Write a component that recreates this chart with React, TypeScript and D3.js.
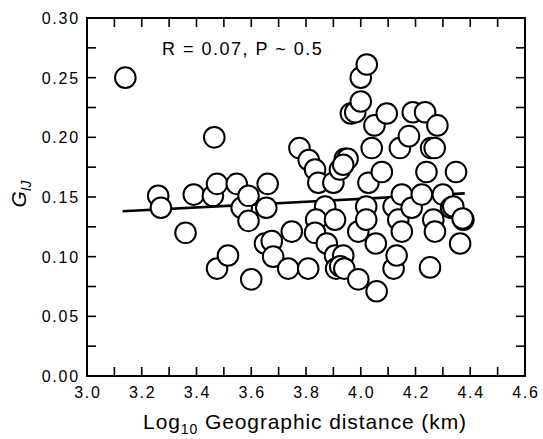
import React from 'react'
import * as d3 from 'd3'

// log10 geographic distance (km) and G_IJ
const distance = [
  3.14, 3.26, 3.27, 3.36, 3.39, 3.465, 3.46, 3.475, 3.475, 3.515,
  3.547, 3.565, 3.59, 3.59, 3.6, 3.66, 3.655, 3.65, 3.675, 3.68,
  3.735, 3.748, 3.776, 3.81, 3.808, 3.833, 3.845, 3.9, 3.87, 3.837,
  3.906, 3.833, 3.876, 3.906, 3.936, 3.91, 3.925, 3.94, 3.924, 3.942,
  3.952, 3.936, 3.964, 3.98, 4.0, 4.0, 4.022, 3.991, 3.991, 4.02,
  4.02, 4.028, 4.04, 4.05, 4.055, 4.058, 4.077, 4.095, 4.12, 4.12,
  4.131, 4.137, 4.143, 4.15, 4.15, 4.176, 4.186, 4.19, 4.223, 4.235,
  4.24, 4.253, 4.257, 4.27, 4.265, 4.271, 4.28, 4.3, 4.33, 4.348,
  4.363, 4.375, 4.338, 4.372
]
const gij = [
  0.25, 0.151, 0.141, 0.12, 0.152, 0.2, 0.151, 0.161, 0.09, 0.101,
  0.161, 0.141, 0.151, 0.13, 0.081, 0.161, 0.141, 0.111, 0.113, 0.1,
  0.09, 0.121, 0.191, 0.181, 0.09, 0.173, 0.162, 0.162, 0.142, 0.131,
  0.131, 0.12, 0.111, 0.101, 0.101, 0.09, 0.092, 0.09, 0.173, 0.182,
  0.182, 0.177, 0.22, 0.221, 0.23, 0.25, 0.261, 0.121, 0.081, 0.142,
  0.131, 0.162, 0.191, 0.21, 0.111, 0.071, 0.171, 0.22, 0.142, 0.09,
  0.101, 0.131, 0.191, 0.152, 0.121, 0.201, 0.141, 0.221, 0.152, 0.221,
  0.171, 0.091, 0.191, 0.191, 0.131, 0.121, 0.21, 0.152, 0.141, 0.171,
  0.111, 0.131, 0.142, 0.132
]

// fitted regression line end points
const fitX = [3.13, 4.38]
const fitY = [0.138, 0.153]

const xTickLabels = ['3.0', '3.2', '3.4', '3.6', '3.8', '4.0', '4.2', '4.4', '4.6']
const yTickLabels = ['0.00', '0.05', '0.10', '0.15', '0.20', '0.25', '0.30']

export default function App() {
  const left = 87
  const right = 525
  const top = 18
  const bottom = 376

  const x = d3.scaleLinear().domain([3.0, 4.6]).range([left, right])
  const y = d3.scaleLinear().domain([0, 0.3]).range([bottom, top])

  const xMinor = d3.range(0, 17).map(i => 3.0 + i * 0.1)
  const yMinor = d3.range(0, 13).map(i => i * 0.025)
  const tickLen = 9

  const line = d3
    .line<number>()
    .x(d => x(fitX[d]))
    .y(d => y(fitY[d]))

  const font = '"Liberation Sans", Arial, sans-serif'

  return (
    <svg
      width={543}
      height={439}
      style={{position: 'absolute', left: 0, top: 0, background: '#fff'}}
      fontFamily={font}
    >
      <rect x={0} y={0} width={543} height={439} fill="#fff" />

      {/* ticks, all four sides, pointing inward */}
      <g stroke="#000" strokeWidth={1.6}>
        {xMinor.map((v, i) => (
          <g key={'x' + i}>
            <line x1={x(v)} x2={x(v)} y1={bottom} y2={bottom - tickLen} />
            <line x1={x(v)} x2={x(v)} y1={top} y2={top + tickLen} />
          </g>
        ))}
        {yMinor.map((v, i) => (
          <g key={'y' + i}>
            <line x1={left} x2={left + tickLen} y1={y(v)} y2={y(v)} />
            <line x1={right} x2={right - tickLen} y1={y(v)} y2={y(v)} />
          </g>
        ))}
      </g>

      <path d={line([0, 1]) || ''} stroke="#000" strokeWidth={2.6} fill="none" />

      <g fill="#fff" stroke="#000" strokeWidth={2}>
        {distance.map((d, i) => (
          <circle key={i} cx={x(d)} cy={y(gij[i])} r={10.3} />
        ))}
      </g>

      <rect
        x={left}
        y={top}
        width={right - left}
        height={bottom - top}
        fill="none"
        stroke="#000"
        strokeWidth={2}
      />

      <g fontSize={16} letterSpacing={1.8} fill="#000">
        {xTickLabels.map(t => (
          <text key={t} x={x(+t) + 1} y={398} textAnchor="middle">
            {t}
          </text>
        ))}
        {yTickLabels.map(t => (
          <text key={t} x={80} y={y(+t) + 6} textAnchor="end">
            {t}
          </text>
        ))}
      </g>

      <text x={162} y={55} fontSize={18} letterSpacing={1.5}>
        R = 0.07, P ~ 0.5
      </text>

      <text x={305} y={429} fontSize={21} textAnchor="middle" letterSpacing={0.9}>
        Log
        <tspan fontSize={14} dy={5}>10</tspan>
        <tspan dy={-5}> Geographic distance (km)</tspan>
      </text>

      <text
        transform="translate(26,194) rotate(-90)"
        fontSize={21}
        fontStyle="italic"
        textAnchor="middle"
      >
        G<tspan fontSize={14} dy={5}>IJ</tspan>
      </text>
    </svg>
  )
}
